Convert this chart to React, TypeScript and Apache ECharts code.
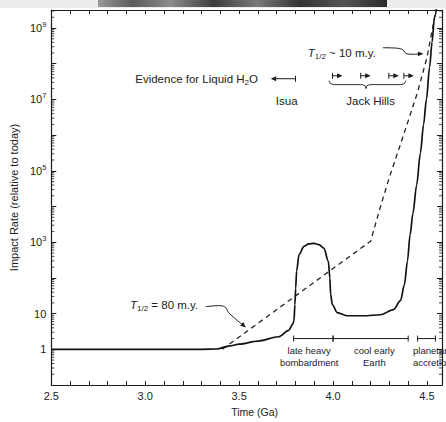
import React, { useEffect, useRef } from 'react';
import * as echarts from 'echarts';

// ---- data ----
const solidTime = [2.5, 3.0, 3.3, 3.38, 3.45, 3.5, 3.6, 3.71, 3.764, 3.785, 3.792, 3.797, 3.801, 3.806, 3.819, 3.845, 3.87, 3.898, 3.925, 3.951, 3.975, 3.983, 3.987, 3.996, 4.022, 4.077, 4.162, 4.253, 4.322, 4.359, 4.38, 4.396, 4.41, 4.425, 4.445, 4.465, 4.482, 4.497, 4.514, 4.527, 4.54, 4.555];
const solidRate = [1, 1, 1, 1.02, 1.25, 1.4, 1.7, 2.25, 3.4, 5, 6.3, 18, 52, 155, 450, 760, 900, 930, 860, 680, 290, 100, 35, 18, 10.7, 8.7, 8.7, 9.3, 13, 23, 65, 295, 1600, 6300, 40000, 316000, 2000000, 10000000, 80000000, 400000000, 2000000000, 5000000000];

const dashedTime = [3.41, 4.2, 4.25, 4.3, 4.35, 4.4, 4.45, 4.5, 4.53, 4.555];
const dashedRate = [1, 1070, 9000, 66000, 400000, 2500000, 16000000, 150000000, 1000000000, 5000000000];

const xTickLabels = ['2.5', '3.0', '3.5', '4.0', '4.5'];
const yTickLabels = [1, 10, 1e3, 1e5, 1e7, 1e9];

const periods = [
  { name: ['late heavy', 'bombardment'], from: 3.79, to: 4.0 },
  { name: ['cool early', 'Earth'], from: 4.0, to: 4.4 },
  { name: ['planetary', 'accretion'], from: 4.45, to: 4.545 },
];
const isuaAge = 3.8;
const jackHillsAges = [3.997, 4.147, 4.297, 4.377];

// ---- layout ----
const XMIN = 2.5;
const XMAX = 4.58;
const YMIN = 0.1;
const YMAX = 3.2e9;
const FONT = '"Liberation Sans", Arial, Helvetica, sans-serif';
const INK = '#1c1c1c';
const TXT = '#222';
const AF = 11.5; // annotation font size

function buildGraphics(chart: any) {
  const P = (x: number, y: number) =>
    chart.convertToPixel({ xAxisIndex: 0, yAxisIndex: 0 }, [x, y]) as number[];
  const g: any[] = [];
  const seg = (x1: number, y1: number, x2: number, y2: number, w = 1) =>
    g.push({ type: 'line', silent: true, z: 50, shape: { x1, y1, x2, y2 }, style: { stroke: INK, lineWidth: w } });
  const head = (tx: number, ty: number, ang: number) => {
    const L = 5.5, W = 2.4;
    const bx = tx - L * Math.cos(ang), by = ty - L * Math.sin(ang);
    const nx = -Math.sin(ang) * W, ny = Math.cos(ang) * W;
    g.push({ type: 'polygon', silent: true, z: 50, shape: { points: [[tx, ty], [bx + nx, by + ny], [bx - nx, by - ny]] }, style: { fill: INK } });
  };
  const txt = (x: number, y: number, text: string, align = 'left', size = AF, rich?: any) =>
    g.push({ type: 'text', silent: true, z: 50, x, y, style: { text, fontSize: size, fontFamily: FONT, fill: TXT, align, verticalAlign: 'middle', rich } });

  // header strip (photo edge at top of page)
  const W = chart.getWidth();
  g.push({ type: 'rect', silent: true, z: 0, shape: { x: 0, y: 0, width: W, height: 8 }, style: { fill: '#ececec' } });
  g.push({
    type: 'rect', silent: true, z: 1, shape: { x: 98, y: 0, width: 289, height: 7 },
    style: {
      fill: {
        type: 'linear', x: 0, y: 0, x2: 1, y2: 0,
        colorStops: [
          { offset: 0, color: '#9a9a9a' }, { offset: 0.12, color: '#5a5a5a' }, { offset: 0.25, color: '#8c8c8c' },
          { offset: 0.4, color: '#3c3c3c' }, { offset: 0.55, color: '#7a7a7a' }, { offset: 0.7, color: '#333' },
          { offset: 0.85, color: '#555' }, { offset: 1, color: '#2a2a2a' },
        ],
      },
    },
  });

  // log minor ticks on left and right axes
  const lx = P(XMIN, 1)[0];
  const rx = P(XMAX, 1)[0];
  for (let k = -1; k <= 9; k++) {
    for (let m = 2; m <= 9; m++) {
      const v = m * Math.pow(10, k);
      if (v >= YMAX) continue;
      const py = P(XMIN, v)[1];
      seg(lx, py, lx + 3, py, 0.8);
      seg(rx - 3, py, rx, py, 0.8);
    }
  }

  const nStyle = { fontSize: AF, lineHeight: 15, fontFamily: FONT, fill: TXT };
  const rowRich = { n: nStyle, sub: { fontSize: 8, lineHeight: 8, verticalAlign: 'bottom', fontFamily: FONT, fill: TXT } };
  const tRich = {
    i: { ...nStyle, fontStyle: 'italic' },
    s: { fontSize: 8, lineHeight: 8, verticalAlign: 'bottom', fontFamily: FONT, fill: TXT },
    n: nStyle,
  };

  // Evidence for liquid water row
  const [ex, ey] = P(3.6, 3.8e7);
  txt(ex, ey, '{n|Evidence for Liquid H}{sub|2}{n|O}', 'right', AF, rowRich);
  const [bx, by] = P(isuaAge, 3.8e7);
  const tipx = P(3.668, 3.8e7)[0];
  seg(tipx + 2, by, bx, by);
  seg(bx, by - 3, bx, by + 3);
  head(tipx, by, Math.PI);
  const [ix, iy] = P(3.753, 9e6);
  txt(ix, iy, 'Isua', 'center');

  for (const a of jackHillsAges) {
    const [sx, sy] = P(a, 4.6e7);
    seg(sx, sy - 3, sx, sy + 3);
    seg(sx, sy, sx + 8, sy);
    head(sx + 10, sy, 0);
  }
  const [bl, byy] = P(3.978, 2.6e7);
  const br = P(4.388, 2.6e7)[0];
  const bc = P(4.175, 2.6e7)[0];
  g.push({
    type: 'polyline', silent: true, z: 50,
    shape: {
      points: [[bl, byy - 4], [bl + 1.5, byy - 1], [bl + 5, byy], [bc - 4, byy], [bc - 1, byy + 1], [bc, byy + 4], [bc + 1, byy + 1], [bc + 4, byy], [br - 5, byy], [br - 1.5, byy - 1], [br, byy - 4]],
    },
    style: { stroke: INK, lineWidth: 0.9, fill: null },
  });
  const [jx, jy] = P(4.2, 9e6);
  txt(jx, jy, 'Jack Hills', 'center');

  // T1/2 ~ 10 m.y.
  const [t1x, t1y] = P(3.865, 2e8);
  txt(t1x, t1y, '{i|T}{s|1/2}{n| ~ 10 m.y.}', 'left', AF, tRich);
  const s1 = P(4.265, 2.8e8);
  const e1 = P(4.481, 1.9e8);
  g.push({
    type: 'polyline', silent: true, z: 50,
    shape: { points: [s1, [s1[0] + 15, s1[1] + 0.5], [s1[0] + 20, s1[1] + 2], [s1[0] + 24, e1[1]], [e1[0] - 3, e1[1]]], smooth: 0.4 },
    style: { stroke: INK, lineWidth: 1, fill: null },
  });
  head(e1[0], e1[1], 0);

  // T1/2 = 80 m.y.
  const [t2x, t2y] = P(2.919, 17.8);
  txt(t2x, t2y, '{i|T}{s|1/2}{n| = 80 m.y.}', 'left', AF, tRich);
  const s2 = P(3.322, 15.6);
  const e2 = P(3.536, 4.1);
  const m2 = [s2[0] + 23, s2[1] + 6];
  g.push({
    type: 'polyline', silent: true, z: 50,
    shape: { points: [s2, [s2[0] + 15, s2[1] - 1], [s2[0] + 20, s2[1] + 1], m2, [e2[0] - 3, e2[1] - 2.3]], smooth: 0.4 },
    style: { stroke: INK, lineWidth: 1, fill: null },
  });
  head(e2[0], e2[1], Math.atan2(e2[1] - m2[1], e2[0] - m2[0]));

  // period bars
  const labelAt = [{ x: 3.873, align: 'center' }, { x: 4.22, align: 'center' }, { x: 4.426, align: 'left' }];
  periods.forEach((p, i) => {
    const [x1, y] = P(p.from, 2.0);
    const x2 = P(p.to, 2.0)[0];
    seg(x1, y, x2, y, 1);
    seg(x1, y - 3, x1, y + 3, 1);
    seg(x2, y - 3, x2, y + 3, 1);
    const lx0 = P(labelAt[i].x, 2.0)[0];
    txt(lx0, y + 12, p.name[0], labelAt[i].align, 9.5);
    txt(lx0, y + 24, p.name[1], labelAt[i].align, 9.5);
  });
  return g;
}

const axisLine = { show: true, lineStyle: { color: INK, width: 1.2 } };

const option: any = {
  animation: false,
  backgroundColor: '#fff',
  grid: { left: 50, right: 4, top: 10, bottom: 34, containLabel: false },
  xAxis: [
    {
      type: 'value', min: XMIN, max: XMAX, interval: 0.1, position: 'bottom',
      axisLine, splitLine: { show: false },
      axisTick: { inside: true, length: 4, lineStyle: { color: INK } },
      axisLabel: {
        fontSize: 11, color: TXT, fontFamily: FONT, margin: 5,
        formatter: (v: number) => {
          const s = (Math.round(v * 10) / 10).toFixed(1);
          return xTickLabels.includes(s) && Math.abs(v * 10 - Math.round(v * 10)) < 1e-6 ? s : '';
        },
      },
      name: 'Time (Ga)', nameLocation: 'middle', nameGap: 21,
      nameTextStyle: { fontSize: 10.5, color: TXT, fontFamily: FONT, padding: [0, 0, 0, 16] },
    },
    {
      type: 'value', min: XMIN, max: XMAX, interval: 0.1, position: 'top',
      axisLine, splitLine: { show: false },
      axisTick: { inside: true, length: 4, lineStyle: { color: INK } },
      axisLabel: { show: false },
    },
  ],
  yAxis: [
    {
      type: 'log', logBase: 10, min: YMIN, max: YMAX, interval: 1, position: 'left',
      axisLine, splitLine: { show: false },
      axisTick: { inside: true, length: 5, lineStyle: { color: INK } },
      axisLabel: {
        fontSize: 11, color: TXT, fontFamily: FONT, margin: 5,
        formatter: (v: number) => {
          const lg = Math.log10(v);
          const e = Math.round(lg);
          if (Math.abs(lg - e) > 1e-6) return '';
          if (!yTickLabels.includes(Math.pow(10, e))) return '';
          if (e === 0) return '1';
          if (e === 1) return '10';
          return '{b|10}{s|' + e + '}';
        },
        rich: {
          b: { fontSize: 11, lineHeight: 15, color: TXT, fontFamily: FONT },
          s: { fontSize: 7.5, lineHeight: 8, verticalAlign: 'top', color: TXT, fontFamily: FONT },
        },
      },
      name: 'Impact Rate (relative to today)', nameLocation: 'middle', nameGap: 32,
      nameTextStyle: { fontSize: 11, color: TXT, fontFamily: FONT },
    },
    {
      type: 'log', logBase: 10, min: YMIN, max: YMAX, interval: 1, position: 'right',
      axisLine, splitLine: { show: false },
      axisTick: { inside: true, length: 5, lineStyle: { color: INK } },
      axisLabel: { show: false },
    },
  ],
  series: [
    {
      type: 'line', xAxisIndex: 0, yAxisIndex: 0,
      data: solidTime.map((t, i) => [t, solidRate[i]]),
      symbol: 'none', smooth: 0.3, smoothMonotone: 'x',
      lineStyle: { color: '#111', width: 1.7 }, z: 3,
    },
    {
      type: 'line', xAxisIndex: 0, yAxisIndex: 0,
      data: dashedTime.map((t, i) => [t, dashedRate[i]]),
      symbol: 'none',
      lineStyle: { color: '#222', width: 1.3, type: [5, 4] }, z: 2,
    },
  ],
};

export default function App() {
  const ref = useRef<HTMLDivElement>(null);
  useEffect(() => {
    document.body.style.margin = '0';
    const chart = echarts.init(ref.current!, null, { renderer: 'svg' });
    chart.setOption(option);
    chart.setOption({ graphic: buildGraphics(chart) });
    return () => chart.dispose();
  }, []);
  return <div ref={ref} style={{ width: 446, height: 422, position: 'absolute', left: 0, top: 0, background: '#fff' }} />;
}
